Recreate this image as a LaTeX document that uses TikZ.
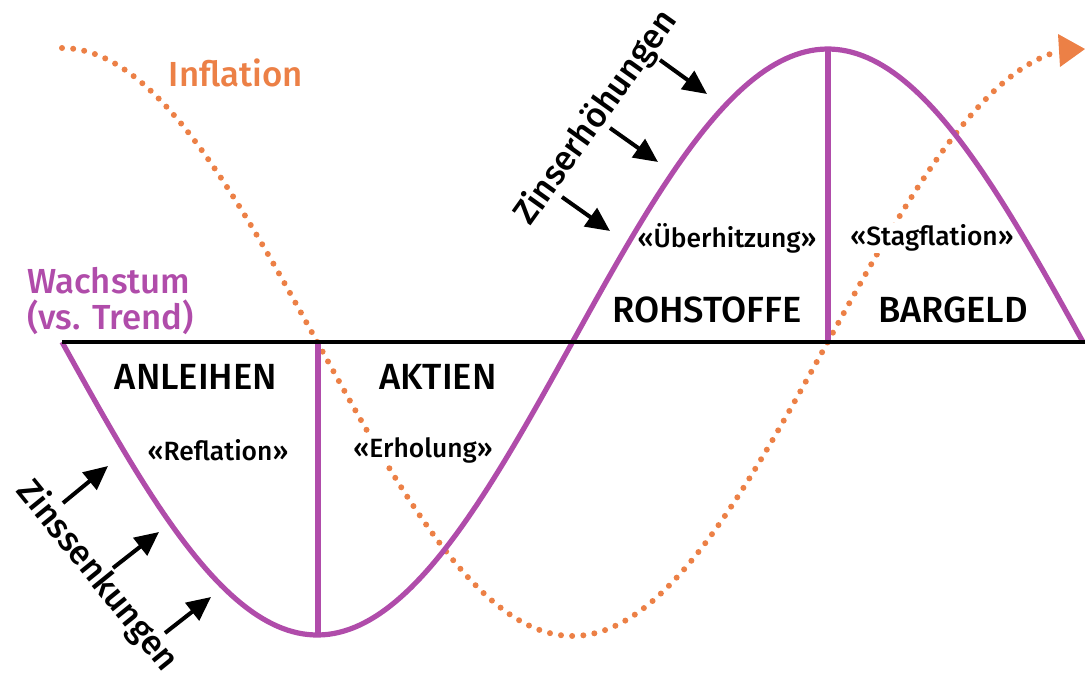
\documentclass[tikz,border=0pt]{standalone}
\usepackage{fontspec}
\setmainfont{Fira Sans}[UprightFont={* Medium}]
\usetikzlibrary{arrows.meta}
\definecolor{growth}{RGB}{176,76,170}
\definecolor{infl}{RGB}{236,128,70}

\begin{document}
\begin{tikzpicture}[x=0.5pt,y=-0.5pt,
	asset/.style={font=\fontsize{18.2}{19}\selectfont},
	regime/.style={font=\fontsize{13.2}{14}\selectfont,fill=white,inner sep=1pt},
	curvelabel/.style={font=\fontsize{17.4}{20}\selectfont,align=left},
	rate/.style={-{Triangle[length=12pt,width=11pt]},line width=2pt},
	ratelabel/.style={font=\fontsize{17.2}{18}\selectfont,inner sep=1pt}]
	\useasboundingbox (0,0) rectangle (1085,681);

	%INFLATION (dotted, one period)
	\draw[infl,line width=3pt,line cap=round,dash pattern=on 0pt off 5.6pt,domain=62:1052,samples=200] plot (\x,{342-294*cos((\x-62)*0.352595)});
	\fill[infl] (1058,34) -- (1085,49) -- (1060,67) -- cycle;	%arrow head

	%LABELS (white boxes hide the dots)
	\node[curvelabel,text=infl] (inflation) at (236,73) {Inflation};
	\node[curvelabel,text=growth,anchor=west] (growth) at (20,301) {Wachstum\\[-2pt](vs. Trend)};
	%
	\node[asset] (bonds) at (196,377) {ANLEIHEN};
	\node[asset] (stocks) at (438,377) {AKTIEN};
	\node[asset] (commod) at (707,310) {ROHSTOFFE};
	\node[asset] (cash) at (953,310) {BARGELD};
	%
	\node[regime] (reflation) at (218,450) {«Reflation»};
	\node[regime] (recovery) at (423,450) {«Erholung»};
	\node[regime] (overheat) at (727,238) {«Überhitzung»};
	\node[regime] (stagfl) at (932,238) {«Stagflation»};

	%GROWTH (sine wave)
	\draw[growth,line width=2.6pt,domain=62:1083,samples=200] plot (\x,{342+293*sin((\x-62)*0.352595)});
	\draw[growth,line width=2.6pt] (318,342)--(318,635);	%trough
	\draw[growth,line width=2.6pt] (828,48)--(828,342);	%peak

	%AXIS
	\draw[line width=2.2pt] (62,342)--(1085,342);

	%RATE ARROWS
	\foreach \n/\xa/\ya/\xb/\yb in {1/63/503/108/466,2/113/568/159/532,3/165/633/211/597}{
		\coordinate (cut\n) at (\xa,\ya);
		\coordinate (cutend\n) at (\xb,\yb);
		\draw[rate] (cut\n)--(cutend\n);
	}
	\foreach \n/\xa/\ya/\xb/\yb in {1/660/60/707/94,2/610/128/658/162,3/562/197/610/231}{
		\coordinate (hike\n) at (\xa,\ya);
		\coordinate (hikeend\n) at (\xb,\yb);
		\draw[rate] (hike\n)--(hikeend\n);
	}
	\node[ratelabel,rotate=-51] (cuts) at (97,576) {Zinssenkungen};
	\node[ratelabel,rotate=54.5] (hikes) at (596,118) {Zinserhöhungen};
\end{tikzpicture}
\end{document}
